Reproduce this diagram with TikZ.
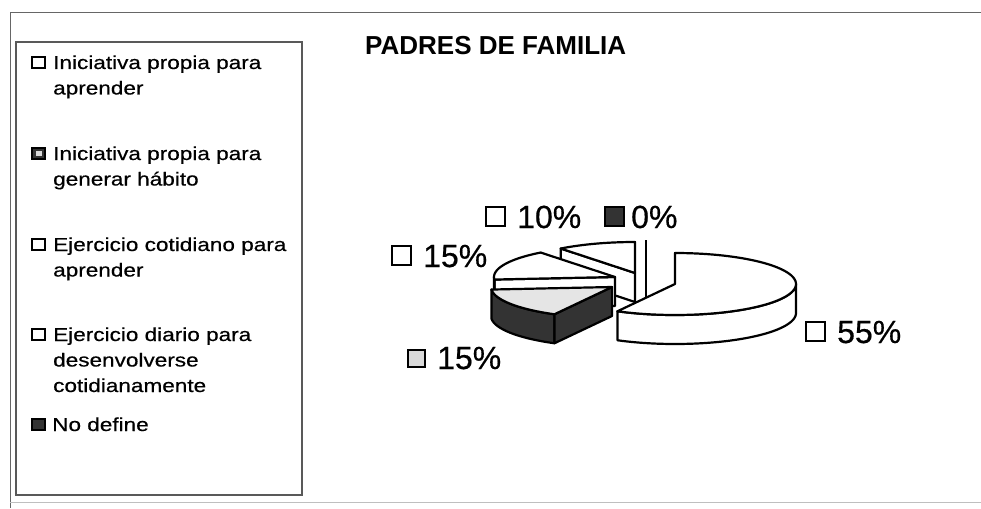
\documentclass[tikz,border=0pt]{standalone}
\usepackage{fontspec}
\setmainfont{Liberation Sans}
\newfontfamily\legfont{Liberation Sans}[FakeStretch=1.2, FakeBold=0.5]
\newfontfamily\pctfont{Liberation Sans}[FakeBold=0.5]
\usetikzlibrary{patterns}
\begin{document}
\begin{tikzpicture}[x=1pt,y=-1pt,
  frameline/.style={draw=black!60, line width=1pt},
  legbox/.style={draw=black!65, line width=1.3pt},
  legtxt/.style={anchor=base west, inner sep=0pt, font=\legfont\fontsize{18.8}{22}\selectfont},
  pct/.style={anchor=base west, inner sep=0pt, font=\pctfont\fontsize{32}{36}\selectfont},
  iconwhite/.style={draw=black, line width=1.4pt, fill=white},
  iconthick/.style={draw=black, line width=2.4pt, fill=white},
  icondark/.style={draw=black, line width=1.4pt, fill=black!80},
  pie/.style={draw=black, line width=2.2pt, line join=round},
  piewhite/.style={pie, fill=white},
  piedark/.style={pie, fill=black!80},
  pielight/.style={pie, fill=black!10},
]
\useasboundingbox (0,0) rectangle (981,508);
\fill[white] (0,0) rectangle (981,508);
% outer frame
\draw[frameline] (981,13) -- (10,13) -- (10,508);
\draw[draw=black!25, line width=1pt] (10,502) -- (981,502);
% legend box
\draw[legbox] (16,42) rectangle (302,495);
% legend icons
\draw[iconthick] (32,57) rectangle (45,68);
\draw[icondark] (32,148) rectangle (45,159);
\fill[black!15] (35.5,151) rectangle (41.5,156);
\draw[iconwhite] (32,239) rectangle (45,250);
\draw[iconwhite] (32,329) rectangle (45,340);
\draw[icondark] (32,419) rectangle (45,430);
% legend text
\node[legtxt] (l1a) at (53,69) {Iniciativa propia para};
\node[legtxt] (l1b) at (53,94.5) {aprender};
\node[legtxt] (l2a) at (53,160) {Iniciativa propia para};
\node[legtxt] (l2b) at (53,185.5) {generar hábito};
\node[legtxt] (l3a) at (53,251) {Ejercicio cotidiano para};
\node[legtxt] (l3b) at (53,276.5) {aprender};
\node[legtxt] (l4a) at (53,341) {Ejercicio diario para};
\node[legtxt] (l4b) at (53,366.5) {desenvolverse};
\node[legtxt] (l4c) at (53,392) {cotidianamente};
\node[legtxt] (l5a) at (52,431) {No define};
% title
\node[anchor=base west, inner sep=0pt, font=\bfseries\fontsize{26}{30}\selectfont] (title) at (365,55) {PADRES DE FAMILIA};
% ---- pie ----
% slice E (0%)
\draw[pie] (646,240) -- (646,298);
% slice D (10%) center (635,273)
\filldraw[piewhite] (635,273) -- ({635+121*cos(127.9)},{273-31*sin(127.9)}) -- ({635+121*cos(127.9)},{302-31*sin(127.9)}) -- (635,302) -- cycle;
\filldraw[piewhite] (635,273) -- plot[domain=90:127.9,samples=30] ({635+121*cos(\x)},{273-31*sin(\x)}) -- cycle;
\draw[pie] (635,242) -- (635,302);
% slice C (15% upper) center (615,277)
\filldraw[piewhite] (615,277) -- ({615+121*cos(184.7)},{277-31*sin(184.7)}) -- ({615+121*cos(184.7)},{306-31*sin(184.7)}) -- (615,306) -- cycle;
\filldraw[piewhite] plot[domain=180:184.7,samples=5] ({615+121*cos(\x)},{277-31*sin(\x)}) -- plot[domain=184.7:180,samples=5] ({615+121*cos(\x)},{306-31*sin(\x)}) -- cycle;
\filldraw[piewhite] (615,277) -- plot[domain=127.9:184.7,samples=30] ({615+121*cos(\x)},{277-31*sin(\x)}) -- cycle;
% slice B (15% lower) center (612,287)
\filldraw[piedark] plot[domain=184.7:241.6,samples=30] ({612+121*cos(\x)},{287-31*sin(\x)}) -- plot[domain=241.6:184.7,samples=30] ({612+121*cos(\x)},{316-31*sin(\x)}) -- cycle;
\filldraw[piedark] (612,287) -- ({612+121*cos(241.6)},{287-31*sin(241.6)}) -- ({612+121*cos(241.6)},{316-31*sin(241.6)}) -- (612,316) -- cycle;
\filldraw[pielight] (612,287) -- plot[domain=184.7:241.6,samples=30] ({612+121*cos(\x)},{287-31*sin(\x)}) -- cycle;
% slice A (55%) center (675,284)
\filldraw[piewhite] plot[domain=-118.4:0,samples=50] ({675+121*cos(\x)},{284-31*sin(\x)}) -- plot[domain=0:-118.4,samples=50] ({675+121*cos(\x)},{313-31*sin(\x)}) -- cycle;
\filldraw[piewhite] (675,284) -- plot[domain=-118.4:90,samples=80] ({675+121*cos(\x)},{284-31*sin(\x)}) -- cycle;
% ---- labels ----
\draw[iconwhite] (486,207) rectangle (505,226);
\node[pct] (p10) at (517,228) {10\%};
\draw[icondark] (605,207) rectangle (624,226);
\node[pct] (p0) at (631,228) {0\%};
\draw[iconwhite] (392,246) rectangle (411,265);
\node[pct] (p15a) at (423,267) {15\%};
\draw[draw=black, line width=2.5pt, fill=black!15] (408,350) rectangle (425,367);
\node[pct] (p15b) at (437,369) {15\%};
\draw[iconwhite] (806,322) rectangle (825,341);
\node[pct] (p55) at (837,343) {55\%};
\end{tikzpicture}
\end{document}
